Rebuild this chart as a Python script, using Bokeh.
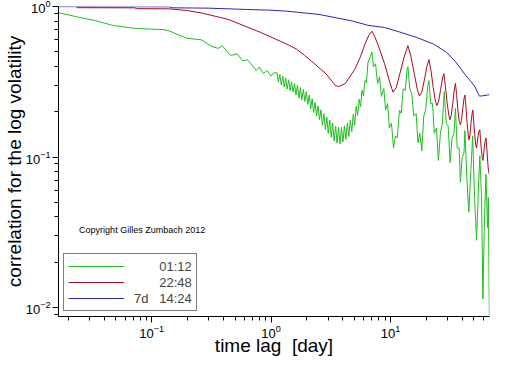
from bokeh.plotting import figure
from bokeh.models import Range1d, Legend, LegendItem, Label, ColumnDataSource
from bokeh.embed import file_html
from bokeh.resources import INLINE

# ---- data (time lag in days, correlation) ----
green_t = [0.0166, 0.0235, 0.033, 0.048, 0.075, 0.125, 0.14, 0.17, 0.197, 0.262,
           0.316, 0.361, 0.39, 0.46, 0.517, 0.578, 0.636, 0.754, 0.797, 0.86,
           0.927, 1.0, 1.06,
           1.12, 1.152, 1.185, 1.219, 1.254, 1.290, 1.327, 1.365, 1.404, 1.445,
           1.486, 1.529, 1.573, 1.618, 1.664, 1.712, 1.761, 1.812, 1.864, 1.917,
           1.972, 2.029, 2.087, 2.147, 2.209, 2.272, 2.337, 2.404, 2.473, 2.544,
           2.617, 2.692, 2.770, 2.849, 2.931, 3.015, 3.102, 3.191, 3.282, 3.377,
           3.474, 3.573, 3.676, 3.781, 3.890, 4.002, 4.116, 4.235, 4.356, 4.481,
           4.610, 4.742, 4.878, 5.018, 5.162, 5.311, 5.463, 5.620, 5.781, 5.947,
           6.118, 6.294, 6.474,
           7.0, 7.2, 7.5, 7.8, 8.1, 8.4, 8.8, 9.1, 9.45, 9.8,
           10.2, 10.6, 11.0, 11.4, 11.9, 12.3, 12.8, 13.3, 13.8, 14.0, 14.5,
           15.1, 15.7, 16.4, 17.0, 17.6, 18.3, 19.0, 19.7, 20.5, 21.0, 21.7,
           22.5, 23.3, 24.3, 25.2, 26.2, 27.2, 28.2, 29.3, 30.4, 31.6, 32.8,
           34.0, 35.0, 36.2, 37.6, 38.5, 39.8, 41.3, 42.0, 43.6, 45.3, 47.0,
           48.8, 50.6, 52.6, 54.6, 56.0, 57.9, 59.5, 61.3, 63.0, 65.0, 66.0,
           67.3]
green_c = [0.91, 0.855, 0.809, 0.747, 0.714, 0.703, 0.689, 0.645, 0.616, 0.600,
           0.544, 0.527, 0.549, 0.472, 0.486, 0.437, 0.442, 0.376, 0.396, 0.358,
           0.376, 0.345, 0.363,
           0.363, 0.316, 0.353, 0.301, 0.344, 0.292, 0.335, 0.283, 0.326, 0.276,
           0.317, 0.270, 0.308, 0.258, 0.300, 0.246, 0.290, 0.240, 0.281, 0.234,
           0.272, 0.224, 0.258, 0.209, 0.244, 0.198, 0.231, 0.1875, 0.2185, 0.176,
           0.206, 0.1627, 0.194, 0.1527, 0.184, 0.144, 0.176, 0.135, 0.168, 0.128,
           0.1605, 0.1236, 0.1576, 0.1225, 0.1571, 0.126, 0.1615, 0.131, 0.168, 0.137,
           0.176, 0.147, 0.1924, 0.163, 0.217, 0.189, 0.242, 0.2165, 0.278, 0.255,
           0.322, 0.312, 0.422,
           0.499, 0.398, 0.416, 0.308, 0.342, 0.253, 0.285, 0.205, 0.227, 0.156,
           0.168, 0.115, 0.138, 0.134, 0.205, 0.195, 0.285, 0.277, 0.386, 0.398, 0.285,
           0.264, 0.187, 0.195, 0.124, 0.144, 0.110, 0.187, 0.205, 0.294, 0.322, 0.227,
           0.227, 0.144, 0.156, 0.095, 0.144, 0.168, 0.272, 0.168, 0.161, 0.092, 0.134,
           0.144, 0.211, 0.115, 0.115, 0.068, 0.099, 0.107, 0.150, 0.073, 0.043, 0.079,
           0.138, 0.054, 0.028, 0.063, 0.102, 0.054, 0.0114, 0.040, 0.077, 0.034, 0.054,
           0.0088]

red_t = [0.0235, 0.072, 0.075, 0.14, 0.2, 0.27, 0.436, 0.81, 1.35, 1.63, 1.9,
         2.17, 2.88, 3.47, 3.68, 4.19, 5.06, 5.6, 6.12, 6.6,
         7.0, 7.4, 8.1, 8.9, 9.8, 10.5, 11.2, 12.0, 13.0,
         14.0, 14.8, 15.8, 16.8, 17.5, 18.3, 19.3, 20.2,
         21.0, 21.8, 22.8, 23.8, 24.5, 25.3, 26.3, 27.2,
         28.0, 28.8, 29.8, 30.8, 31.5, 32.3, 33.3, 34.2,
         35.0, 35.8, 36.8, 37.8, 38.5, 39.3, 40.3, 41.3,
         42.0, 42.8, 43.8, 44.8, 45.5, 46.3, 47.3, 48.3,
         49.0, 49.8, 50.8, 51.8, 52.5, 53.3, 54.3, 55.3,
         56.0, 56.8, 57.8, 58.8, 59.5, 60.3, 61.3, 62.3,
         63.0, 63.8, 64.8, 65.8, 66.5, 67.3]
red_c = [0.982, 0.980, 0.968, 0.965, 0.94, 0.90, 0.822, 0.675, 0.563, 0.522, 0.475,
         0.435, 0.358, 0.298, 0.294, 0.308, 0.386, 0.463, 0.563, 0.645,
         0.685, 0.63, 0.522, 0.42, 0.32, 0.27, 0.29, 0.36, 0.46,
         0.55, 0.47, 0.36, 0.28, 0.255, 0.27, 0.33, 0.40,
         0.444, 0.38, 0.29, 0.235, 0.22, 0.235, 0.28, 0.33,
         0.358, 0.30, 0.23, 0.19, 0.177, 0.19, 0.23, 0.28,
         0.308, 0.26, 0.20, 0.17, 0.164, 0.175, 0.21, 0.245,
         0.258, 0.22, 0.17, 0.14, 0.130, 0.14, 0.17, 0.195,
         0.205, 0.17, 0.14, 0.12, 0.115, 0.125, 0.14, 0.15,
         0.152, 0.13, 0.11, 0.098, 0.095, 0.105, 0.12, 0.13,
         0.134, 0.12, 0.10, 0.085, 0.08, 0.077]

blue_t = [0.0166, 0.14, 0.15, 0.3, 0.64, 1.0, 1.35, 2.52, 4.79, 6.48, 8.94, 12.3,
          16.6, 22.9, 29.4, 35.3, 42.7, 50.5, 55.6, 58.8, 64.6, 67.3]
blue_c = [0.998, 0.995, 0.98, 0.975, 0.955, 0.945, 0.931, 0.886, 0.801, 0.750, 0.725,
          0.672, 0.623, 0.563, 0.497, 0.427, 0.349, 0.297, 0.254, 0.255, 0.258, 0.260]

series_labels = ["\u00a0" * 7 + "01:12", "\u00a0" * 7 + "22:48", "7d\u00a0\u00a0\u00a014:24"]
series_colors = ["#1fbf1f", "#aa0a1e", "#2828b8"]

x_label = "time lag\u00a0\u00a0[day]"
y_label = "correlation for the log volatility"
note = "Copyright Gilles Zumbach 2012"

FONT = "Liberation Sans"

p = figure(width=504, height=358, x_axis_type="log", y_axis_type="log",
           x_range=Range1d(0.0166, 67.5), y_range=Range1d(0.00873, 1.0),
           output_backend="svg", toolbar_location=None,
           min_border_left=49, min_border_right=15, min_border_top=6,
           min_border_bottom=40)
p.grid.visible = False
p.outline_line_color = None
p.background_fill_color = "white"
p.border_fill_color = "white"

src = ColumnDataSource(dict(xs=[green_t, red_t, blue_t],
                            ys=[green_c, red_c, blue_c],
                            color=series_colors,
                            label=series_labels))
ml = p.multi_line("xs", "ys", line_color="color", line_width=1, source=src)

for ax in (p.xaxis[0], p.yaxis[0]):
    ax.axis_line_color = "black"
    ax.major_tick_line_color = "black"
    ax.minor_tick_line_color = "black"
    ax.major_tick_in = 0
    ax.minor_tick_in = 0
    ax.major_tick_out = 6
    ax.minor_tick_out = 4
    ax.major_label_text_font = FONT
    ax.major_label_text_font_size = "13px"
    ax.major_label_text_color = "black"
    ax.axis_label_text_font = FONT
    ax.axis_label_text_font_size = "19px"
    ax.axis_label_text_font_style = "normal"
    ax.axis_label_text_color = "black"
    ax.major_label_standoff = 2
    ax.axis_label_standoff = 0
p.xaxis[0].axis_label_standoff = -6
p.yaxis[0].axis_label_standoff = -2

p.xaxis.axis_label = x_label
p.yaxis.axis_label = y_label

legend = Legend(items=[LegendItem(label=series_labels[i], renderers=[ml], index=i)
                       for i in range(3)],
                location="bottom_left")
legend.margin = 5
legend.padding = 4
legend.spacing = 0
legend.glyph_width = 56
legend.glyph_height = 16
legend.label_height = 16
legend.label_standoff = 10
legend.label_text_font = FONT
legend.label_text_font_size = "13px"
legend.border_line_color = "black"
legend.border_line_width = 1
legend.background_fill_alpha = 1.0
p.add_layout(legend)

p.add_layout(Label(x=0.0247, y=0.0304, text=note, text_font=FONT,
                   text_font_size="9px", text_color="black",
                   text_baseline="bottom"))

open("out.html", "w").write(file_html(p, INLINE))
